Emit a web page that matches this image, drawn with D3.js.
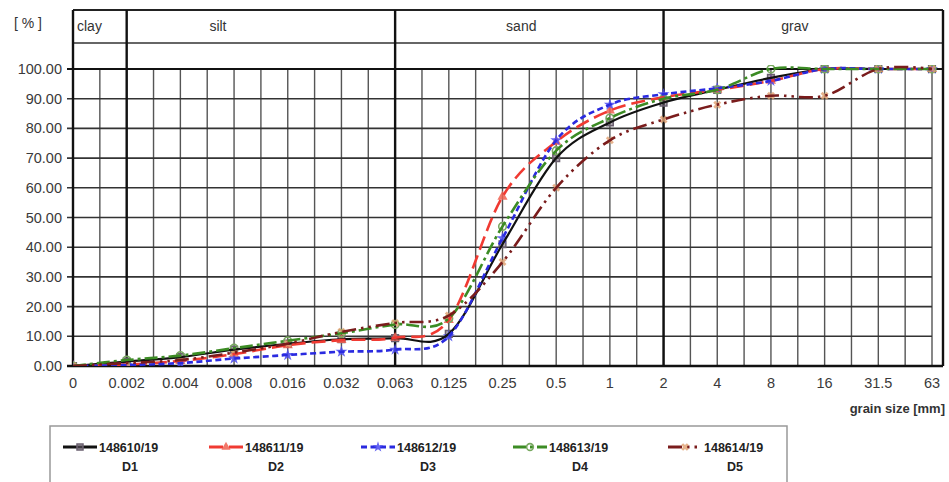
<!DOCTYPE html>
<html><head><meta charset="utf-8">
<script src="https://cdn.jsdelivr.net/npm/d3@7"></script>
<style>
body{margin:0;background:#fff}
svg{display:block;font-family:"Liberation Sans",Arial,sans-serif}
</style>
</head><body>
<svg id="chart" width="949" height="482"></svg>
<script>
// ---- data ----
const categories = ["0","0.002","0.004","0.008","0.016","0.032","0.063","0.125","0.25","0.5","1","2","4","8","16","31.5","63"];
const yTicks = [0,10,20,30,40,50,60,70,80,90,100];
const seriesNames = ["148610/19","148611/19","148612/19","148613/19","148614/19"];
const seriesCodes = ["D1","D2","D3","D4","D5"];
const d1 = [0,1.5,3,5.5,7.5,9,9.4,10.8,41,70,82,88.7,93,97,100,100,100];
const d2 = [0,0.5,1.7,4,7,8.7,9.5,15.5,57,75.5,86,90.5,93,96,100,100,100];
const d3v = [0,0.3,1,2.5,3.7,4.8,5.5,10,43,76,88,91.5,93.5,96,100,100,100];
const d4 = [0,2,3.5,6,8.5,11,14,16,47,72.5,83.5,90,93,100,100,100,100];
const d5 = [0,1,2,4.5,7.5,11.5,14.5,17,35,60,76,83,88,91,91,100,100];
const fractionNames = ["clay","silt","sand","grav"];
const fractionBounds = ["0","0.002","0.063","2"];
const xTitle = "grain size [mm]";
const yTitle = "[ % ]";

(function(){
// ---- styles ----
const styles = [
  {color:"#111111", dash:null, width:2.2, marker:"square", mcolor:"#6b6070"},
  {color:"#f03a32", dash:"14,6", width:2.6, marker:"triangle", mcolor:"#f06050"},
  {color:"#2a2ae0", dash:"6,3.5", width:2.6, marker:"star", mcolor:"#4a4af0"},
  {color:"#3c8c24", dash:"13,4,3,4", width:2.6, marker:"circle", mcolor:"#78a860"},
  {color:"#7a1c1c", dash:"14,5,2.5,5,2.5,5", width:2.6, marker:"x", mcolor:"#e0a070"}
];
const seriesValues = [d1,d2,d3v,d4,d5];

const svg = d3.select("#chart");
const pLeft = 73, pRight = 943, plotRight = 932, pTop = 10, headerLine = 43, yTop = 69, yBottom = 366;

const x = d3.scalePoint().domain(categories).range([pLeft, plotRight]);
const y = d3.scaleLinear().domain([0,100]).range([yBottom, yTop]);
const step = x.step();

const g = svg.append("g");
const vpos = d3.range(1, (categories.length-1)*2+1).map(i => pLeft + i*step/2);
g.selectAll("line.v").data(vpos).join("line")
  .attr("x1", d=>d).attr("x2", d=>d).attr("y1", yTop).attr("y2", yBottom)
  .attr("stroke", "#555").attr("stroke-width", 1.4);

g.selectAll("line.h").data(yTicks.filter(v=>v>0 && v<100)).join("line")
  .attr("x1", pLeft-6).attr("x2", plotRight).attr("y1", d=>y(d)).attr("y2", d=>y(d))
  .attr("stroke", "#333").attr("stroke-width", 1.6);
[100,0].forEach(v=>{
  g.append("line").attr("x1", pLeft-6).attr("x2", pRight).attr("y1", y(v)).attr("y2", y(v))
   .attr("stroke", "#111").attr("stroke-width", v===0?2.6:2);
});

g.append("line").attr("x1", pLeft).attr("x2", pRight).attr("y1", pTop).attr("y2", pTop).attr("stroke","#222").attr("stroke-width",2);
g.append("line").attr("x1", pLeft).attr("x2", pRight).attr("y1", headerLine).attr("y2", headerLine).attr("stroke","#333").attr("stroke-width",1.6);
const bx = fractionBounds.map(c=>x(c)).concat([pRight]);
g.selectAll("line.b").data(bx).join("line")
  .attr("x1", d=>d).attr("x2", d=>d).attr("y1", pTop).attr("y2", yBottom)
  .attr("stroke", "#111").attr("stroke-width", 2.4);

const labelPos = [
  {anchor:"start", xp: bx[0]+4},
  {anchor:"middle", xp: bx[1] + (bx[2]-bx[1])*0.34},
  {anchor:"middle", xp: bx[2] + (bx[3]-bx[2])*0.47},
  {anchor:"middle", xp: bx[3] + (bx[4]-bx[3])*0.47}
];
svg.selectAll("text.frac").data(fractionNames).join("text")
  .attr("x", (d,i)=>labelPos[i].xp).attr("y", 31)
  .attr("text-anchor", (d,i)=>labelPos[i].anchor)
  .attr("font-size", 14).attr("fill", "#333").text(d=>d);

svg.selectAll("text.yl").data(yTicks).join("text")
  .attr("x", 62).attr("y", d=>y(d)).attr("dy","0.35em")
  .attr("text-anchor","end").attr("font-size", 14.5).attr("fill","#3a3a3a")
  .text(d=>d.toFixed(2));
svg.append("text").attr("x", 28).attr("y", 28).attr("text-anchor","middle")
  .attr("font-size", 14).attr("fill","#333").text(yTitle);

svg.selectAll("text.xl").data(categories).join("text")
  .attr("x", d=>x(d)).attr("y", 388).attr("text-anchor","middle")
  .attr("font-size", 14.5).attr("fill","#3a3a3a").text(d=>d);
svg.append("text").attr("x", pRight+2).attr("y", 413).attr("text-anchor","end")
  .attr("font-size", 13).attr("font-weight","bold").attr("fill","#333").text(xTitle);

const line = d3.line().x((d,i)=>x(categories[i])).y(d=>y(d)).curve(d3.curveCardinal.tension(0));
const defs = svg.append("defs");
defs.append("clipPath").attr("id","clip").append("rect")
  .attr("x", pLeft).attr("y", yTop-4).attr("width", pRight-pLeft).attr("height", yBottom-yTop+4);

function symbolPath(type, size){
  if(type==="square") return d3.symbol(d3.symbolSquare, size)();
  if(type==="triangle") return d3.symbol(d3.symbolTriangle, size)();
  if(type==="star") return d3.symbol(d3.symbolStar, size)();
  if(type==="circle") return d3.symbol(d3.symbolCircle, size)();
  return d3.symbol(d3.symbolCross, size)();
}
function drawMarker(sel, st, size){
  const p = sel.append("path").attr("d", symbolPath(st.marker, size));
  if(st.marker==="square") p.attr("fill", st.mcolor).attr("fill-opacity",0.55).attr("stroke", st.mcolor).attr("stroke-width",1.5);
  else if(st.marker==="circle") p.attr("fill","none").attr("stroke", st.mcolor).attr("stroke-width",1.6);
  else if(st.marker==="x") p.attr("fill", st.mcolor).attr("fill-opacity",0.8).attr("transform","rotate(45)");
  else p.attr("fill", st.mcolor).attr("fill-opacity",0.85);
  return p;
}

const plot = svg.append("g").attr("clip-path","url(#clip)");
seriesValues.forEach((vals, si)=>{
  const st = styles[si];
  const mg = plot.append("g");
  vals.forEach((v,i)=>{
    const mk = mg.append("g").attr("transform", `translate(${x(categories[i])},${y(v)})`);
    drawMarker(mk, st, st.marker==="x"?40:45);
  });
});
seriesValues.forEach((vals, si)=>{
  const st = styles[si];
  plot.append("path").datum(vals).attr("d", line)
    .attr("fill","none").attr("stroke", st.color).attr("stroke-width", st.width)
    .attr("stroke-dasharray", st.dash).attr("stroke-linecap","butt");
});

const lg = svg.append("g");
lg.append("rect").attr("x", 50).attr("y", 426).attr("width", 737).attr("height", 70)
  .attr("fill","#fff").attr("stroke","#999").attr("stroke-width",1.5);
const legendCenters = [130, 276, 428, 580, 735];
seriesNames.forEach((name, i)=>{
  const st = styles[i];
  const cx = legendCenters[i];
  const tx = cx - 31;
  lg.append("line").attr("x1", tx-36).attr("x2", tx-2).attr("y1", 447).attr("y2", 447)
    .attr("stroke", st.color).attr("stroke-width", 3).attr("stroke-dasharray", st.dash);
  const mk = lg.append("g").attr("transform", `translate(${tx-19},447)`);
  drawMarker(mk, st, 36);
  lg.append("text").attr("x", tx).attr("y", 452).attr("font-size", 12.5).attr("fill","#222")
    .attr("font-weight","bold").text(name);
  lg.append("text").attr("x", cx).attr("y", 471).attr("text-anchor","middle").attr("font-size", 12.5)
    .attr("fill","#222").attr("font-weight","bold").text(seriesCodes[i]);
});
})();
</script>
</body></html>
